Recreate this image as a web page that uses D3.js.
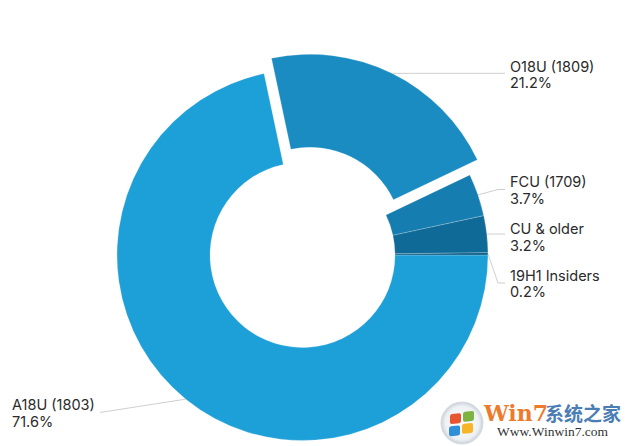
<!DOCTYPE html>
<html>
<head>
<meta charset="utf-8">
<script src="https://cdn.jsdelivr.net/npm/d3@7"></script>
<style>
  html, body { margin: 0; padding: 0; background: #fff; }
  svg { display: block; }
</style>
</head>
<body>
<svg id="chart" width="632" height="446"></svg>
<script>
// ---- data ----
const categories = ["A18U (1803)", "O18U (1809)", "FCU (1709)", "CU & older", "19H1 Insiders"];
const shares = [71.6, 21.2, 3.7, 3.2, 0.2];
const colors = ["#1d9fd7", "#1a8cc2", "#167db1", "#0f6a97", "#0b5c86"];
const exploded = ["O18U (1809)"];

// ---- layout ----
const W = 632, H = 446;
const cx = 302.5, cy = 255, R = 185.5, r0 = 92.5, explode = 17;
// label anchors: [textX, baselineY, side]
const labelLayout = {
  "A18U (1803)":   { x: 12,  y: 410,   side: "left"  },
  "O18U (1809)":   { x: 510, y: 71.5,  side: "right" },
  "FCU (1709)":    { x: 510, y: 187,   side: "right" },
  "CU & older":    { x: 510, y: 234,   side: "right" },
  "19H1 Insiders": { x: 510, y: 280.5, side: "right" }
};

const svg = d3.select("#chart");
const data = categories.map((c, i) => ({ cat: c, value: shares[i], color: colors[i] }));

const pie = d3.pie().sort(null).value(d => d.value)
  .startAngle(Math.PI / 2).endAngle(Math.PI / 2 + 2 * Math.PI);
const arcs = pie(data);
const arc = d3.arc().innerRadius(r0).outerRadius(R);
const outerArc = d3.arc().innerRadius(R).outerRadius(R);

const g = svg.append("g").attr("transform", `translate(${cx},${cy})`);

function offsetOf(a) {
  if (!exploded.includes(a.data.cat)) return [0, 0];
  const mid = (a.startAngle + a.endAngle) / 2;
  return [Math.sin(mid) * explode, -Math.cos(mid) * explode];
}

g.selectAll("path.slice").data(arcs).join("path")
  .attr("class", "slice")
  .attr("d", arc)
  .attr("fill", d => d.data.color)
  .attr("stroke", "rgba(255,255,255,0.3)")
  .attr("stroke-width", 0.7)
  .attr("transform", d => { const o = offsetOf(d); return `translate(${o[0]},${o[1]})`; });

// leader lines
const lines = svg.append("g").attr("fill", "none").attr("stroke", "#cfcfcf").attr("stroke-width", 1);
arcs.forEach(a => {
  const L = labelLayout[a.data.cat];
  const o = offsetOf(a);
  const c = outerArc.centroid(a);
  const p0 = [cx + c[0] + o[0], cy + c[1] + o[1]];
  const ly = L.y + 2.5;
  let pts;
  if (L.side === "right") {
    const endX = L.x - 5;
    pts = [p0, [endX - 7, ly], [endX, ly]];
    if (Math.abs(p0[1] - ly) < 3) pts = [p0, [endX, p0[1]]];
  } else {
    pts = [p0, [L.x + 88, ly]];
  }
  lines.append("path").attr("d", d3.line()(pts));
});

// labels
const labels = svg.append("g")
  .attr("font-family", "Inter, 'Helvetica Neue', Arial, sans-serif")
  .attr("font-size", 14.5)
  .attr("fill", "#2a2a2a");
arcs.forEach(a => {
  const L = labelLayout[a.data.cat];
  const t = labels.append("text").attr("x", L.x).attr("y", L.y);
  t.append("tspan").attr("x", L.x).text(a.data.cat);
  t.append("tspan").attr("x", L.x).attr("dy", 16.5).text(d3.format(".1f")(a.data.value) + "%");
});

// watermark
const wm = svg.append("g");
const grad = svg.append("defs").append("radialGradient").attr("id", "wmg");
grad.append("stop").attr("offset", "0%").attr("stop-color", "#ffffff");
grad.append("stop").attr("offset", "80%").attr("stop-color", "#eef1f4");
grad.append("stop").attr("offset", "100%").attr("stop-color", "#c9d0d8");
wm.append("circle").attr("cx", 462).attr("cy", 423).attr("r", 21)
  .attr("fill", "url(#wmg)").attr("stroke", "#d5dbe1");
const flag = [["#e8542f", -12, -10], ["#7cb342", 1, -11], ["#2f8fd8", -13, 2], ["#f7b52a", 0, 1]];
flag.forEach(f => wm.append("rect").attr("x", 462 + f[1]).attr("y", 423 + f[2])
  .attr("width", 11).attr("height", 10).attr("rx", 2).attr("fill", f[0])
  .attr("transform", `skewY(-6)`).attr("transform-origin", "462 423"));
wm.append("text").attr("x", 484).attr("y", 421)
  .attr("font-family", "'DejaVu Serif', serif").attr("font-weight", "bold")
  .attr("font-size", 22).attr("fill", "#ee7a2b").text("Win7");
wm.append("text").attr("x", 545).attr("y", 421)
  .attr("font-family", "'Noto Sans CJK SC', sans-serif").attr("font-weight", "bold")
  .attr("font-size", 19).attr("fill", "#4a7db3").text("系统之家");
wm.append("text").attr("x", 497).attr("y", 436)
  .attr("font-family", "'Liberation Serif', 'DejaVu Serif', serif")
  .attr("font-size", 13.5).attr("fill", "#333").text("Www.Winwin7.com");
</script>
</body>
</html>
